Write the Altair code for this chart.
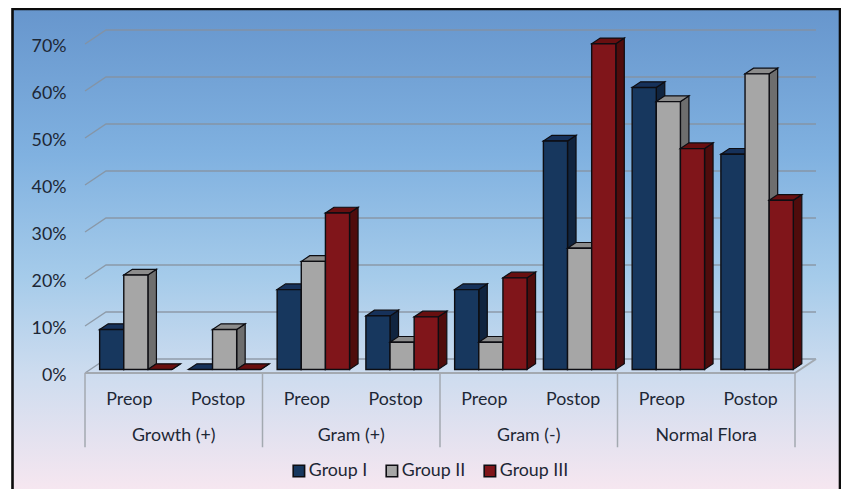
import altair as alt
import pandas as pd

clusters = ["Growth (+)", "Gram (+)", "Gram (-)", "Normal Flora"]
phases = ["Preop", "Postop"]
groups = ["Group I", "Group II", "Group III"]
group_1 = [8.5, 0, 17, 11.4, 17, 48.6, 60, 45.8]
group_2 = [20.1, 8.5, 23, 5.8, 5.8, 25.8, 57, 62.9]
group_3 = [0, 0, 33.3, 11.2, 19.5, 69.3, 47, 36]
ticks = [0, 10, 20, 30, 40, 50, 60, 70]

front = ["#17375e", "#a6a6a6", "#80151a"]
side = ["#10243f", "#6e6e6e", "#4f0c0c"]
top = ["#16315a", "#8c8c8c", "#680f10"]
FONT = "Lato"
TXT = "#1d2735"
GRID = "#87919c"

SLOT, UNIT = 88.75, 4.7          # px per slot, px per percent
X0, Y0 = 85, 373
W, H = 833, 481
x_scale = alt.Scale(domain=[(8 - X0) / SLOT, (8 + W - X0) / SLOT], nice=False, zero=False)
y_scale = alt.Scale(domain=[(Y0 - 8 - H) / UNIT, (Y0 - 8) / UNIT], nice=False, zero=False)

BAR_W, FIRST, BASE = 0.272, 0.165, 0.75
DX, DY = 8.5 / SLOT, 5.7 / UNIT
FLOOR_X, FLOOR_Y = 21 / SLOT, 14 / UNIT

y_axis = alt.Axis(
    orient="left", values=ticks, offset=-58, domain=False, ticks=False, grid=False, title=None,
    labelExpr="datum.value + '%'", labelFont=FONT, labelFontSize=17.8, labelColor=TXT,
    labelPadding=0, labelOffset=2, zindex=1)
X = alt.X("x:Q", scale=x_scale, axis=None)
Y = alt.Y("y:Q", scale=y_scale, axis=y_axis, title=None)
Y2 = alt.Y2("y2:Q")

# background panel
bg = alt.Chart(pd.DataFrame({"a": [0]})).mark_rect(
    stroke="#0c0c0c", strokeWidth=2.6,
    color=alt.Gradient(gradient="linear", x1=0, x2=0, y1=0, y2=1, stops=[
        alt.GradientStop(offset=0, color="#6796cd"),
        alt.GradientStop(offset=0.3, color="#80b1e0"),
        alt.GradientStop(offset=0.55, color="#a5cbea"),
        alt.GradientStop(offset=0.75, color="#cddcef"),
        alt.GradientStop(offset=1, color="#f8e7f0"),
    ])
).encode(x=alt.value(4.5), x2=alt.value(832), y=alt.value(1), y2=alt.value(H + 6))

# gridlines with their receding floor edge
rows = []
for t in ticks:
    for k, (x, y) in enumerate([(0, t), (FLOOR_X, t + FLOOR_Y), (8 + FLOOR_X, t + FLOOR_Y)]):
        rows.append({"t": t, "k": k, "x": x, "y": y})
grid = alt.Chart(pd.DataFrame(rows)).mark_line(color=GRID, strokeWidth=1.3, opacity=0.85).encode(
    x=X, y=Y, detail="t:N", order="k:Q")

floor_rows = [{"i": 0, "x": 0, "y": 0}, {"i": 0, "x": 8, "y": 0},
              {"i": 1, "x": 8, "y": 0}, {"i": 1, "x": 8 + FLOOR_X, "y": FLOOR_Y}]
floor = alt.Chart(pd.DataFrame(floor_rows)).mark_line(color="#a3a9b0", strokeWidth=2).encode(
    x=X, y=Y, detail="i:N")

dividers = alt.Chart(pd.DataFrame({"x": [0, 2, 4, 6, 8], "y": [0] * 5, "y2": [-15.8] * 5})).mark_rule(
    color="#a3a9b0", strokeWidth=1.5).encode(x=X, y=Y, y2=Y2)

phase_df = pd.DataFrame({"x": [i + 0.5 for i in range(8)],
                         "y": [-5.7] * 8,
                         "t": [phases[i % 2] for i in range(8)]})
cluster_df = pd.DataFrame({"x": [1, 3, 5, 7], "y": [-13.5] * 4, "t": clusters})
text_style = dict(font=FONT, fontSize=17.8, color=TXT, align="center", baseline="middle")
phase_text = alt.Chart(phase_df).mark_text(**text_style).encode(x=X, y=Y, text="t:N")
cluster_text = alt.Chart(cluster_df).mark_text(**text_style).encode(x=X, y=Y, text="t:N")

# the bars: side and top faces, then the front, group after group
layers = [bg, grid, floor, dividers, phase_text, cluster_text]
for g, values in enumerate([group_1, group_2, group_3]):
    front_rows, side_rows, top_rows = [], [], []
    for i, v in enumerate(values):
        l = i + FIRST + g * BAR_W
        r = l + BAR_W
        b, h = BASE, BASE + v
        front_rows.append({"x": l, "x2": r, "y": h, "y2": b, "Group": groups[g]})
        side_rows += [{"b": i, "x": r, "y": h, "y2": b},
                      {"b": i, "x": r + DX, "y": h + DY, "y2": b + DY}]
        top_rows += [{"b": i, "x": l, "y": h, "y2": h},
                     {"b": i, "x": l + DX, "y": h + DY, "y2": h},
                     {"b": i, "x": r, "y": h + DY, "y2": h},
                     {"b": i, "x": r + DX, "y": h + DY, "y2": h + DY}]
    edge = dict(stroke="#0d0d12", strokeWidth=1.2)
    layers.append(alt.Chart(pd.DataFrame(side_rows)).mark_area(color=side[g], **edge)
                  .encode(x=X, y=Y, y2=Y2, detail="b:N"))
    layers.append(alt.Chart(pd.DataFrame(top_rows)).mark_area(color=top[g], **edge)
                  .encode(x=X, y=Y, y2=Y2, detail="b:N"))
    layers.append(alt.Chart(pd.DataFrame(front_rows)).mark_bar(stroke="#0d0d12", strokeWidth=1.4).encode(
        x=X, x2="x2:Q", y=Y, y2=Y2,
        color=alt.Color("Group:N", scale=alt.Scale(domain=groups, range=front), legend=alt.Legend(
            orient="none", legendX=282, legendY=454, direction="horizontal", columns=3,
            title=None, symbolType="square", symbolSize=130, symbolStrokeColor="#0d0d12",
            symbolStrokeWidth=1.6, symbolOpacity=1, labelFont=FONT, labelFontSize=17.8,
            labelColor=TXT, labelOffset=1, columnPadding=14, padding=0))))

chart = alt.layer(*layers).properties(
    width=W, height=H, padding=0, autosize=alt.AutoSizeParams(type="none"),
    background="white"
).configure_view(stroke=None)
chart.save("out.html", embed_options={"renderer": "svg", "actions": False})
